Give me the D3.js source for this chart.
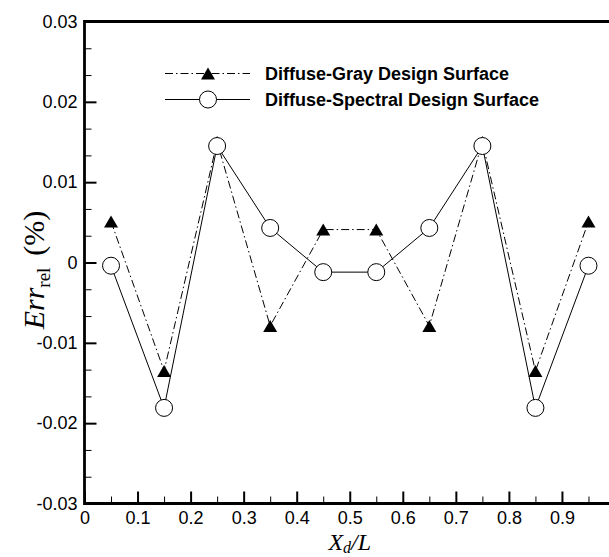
<!DOCTYPE html>
<html>
<head>
<meta charset="utf-8">
<script src="https://cdn.jsdelivr.net/npm/d3@7"></script>
<style>
  html, body { margin: 0; padding: 0; background: #fff; }
  svg { display: block; }
</style>
</head>
<body>
<svg id="chart" width="609" height="557"></svg>
<script>
// ---- data ----
const xPositions = [0.05, 0.15, 0.25, 0.35, 0.45, 0.55, 0.65, 0.75, 0.85, 0.95];
const grayValues = [0.0051, -0.0135, 0.0150, -0.0079, 0.0041, 0.0041, -0.0079, 0.0150, -0.0135, 0.0051];
const spectralValues = [-0.0004, -0.0181, 0.0145, 0.0043, -0.0012, -0.0012, 0.0043, 0.0145, -0.0181, -0.0004];
const seriesNames = ["Diffuse-Gray Design Surface", "Diffuse-Spectral Design Surface"];
const xTicks = [0, 0.1, 0.2, 0.3, 0.4, 0.5, 0.6, 0.7, 0.8, 0.9];
const xTickLabels = ["0", "0.1", "0.2", "0.3", "0.4", "0.5", "0.6", "0.7", "0.8", "0.9"];
const xMinorTicks = [0.05, 0.15, 0.25, 0.35, 0.45, 0.55, 0.65, 0.75, 0.85, 0.95];
const yTicks = [-0.03, -0.02, -0.01, 0, 0.01, 0.02, 0.03];
const yTickLabels = ["-0.03", "-0.02", "-0.01", "0", "0.01", "0.02", "0.03"];

(function () {
const svg = d3.select("#chart");
const pLeft = 84.5, pTop = 21.5, pBottom = 503.5;

const x = d3.scaleLinear().domain([0, 1]).range([pLeft, 615]);
const y = d3.scaleLinear().domain([-0.03, 0.03]).range([pBottom, pTop]);

const yMinor = [];
for (let i = 0; i < 6; i++) {
  const a = yTicks[i];
  yMinor.push(a + 0.01 / 3, a + 0.02 / 3);
}

const sans = "'Liberation Sans', Arial, Helvetica, sans-serif";
const serif = "'Liberation Serif', 'Times New Roman', Times, serif";

// ---- axes ----
const yAxis = d3.axisLeft(y).tickValues(yTicks)
  .tickFormat((d, i) => yTickLabels[i]).tickSizeInner(-12).tickSizeOuter(0).tickPadding(7);
const yAxisMinor = d3.axisLeft(y).tickValues(yMinor)
  .tickFormat("").tickSizeInner(-7).tickSizeOuter(0);
const xAxis = d3.axisBottom(x).tickValues(xTicks)
  .tickFormat((d, i) => xTickLabels[i]).tickSizeInner(-12).tickSizeOuter(0).tickPadding(8);
const xAxisMinor = d3.axisBottom(x).tickValues(xMinorTicks)
  .tickFormat("").tickSizeInner(-7).tickSizeOuter(0);

function styleAxis(g, major) {
  g.select(".domain").remove();
  g.selectAll(".tick line").attr("stroke", "#000").attr("stroke-width", major ? 2 : 1);
  g.selectAll(".tick text").attr("fill", "#000").style("font-family", sans).style("font-size", "18px");
}

svg.append("g").attr("transform", `translate(${pLeft},0)`).call(yAxisMinor).call(g => styleAxis(g, false));
svg.append("g").attr("transform", `translate(${pLeft},0)`).call(yAxis).call(g => styleAxis(g, true));
svg.append("g").attr("transform", `translate(0,${pBottom})`).call(xAxisMinor).call(g => styleAxis(g, false));
svg.append("g").attr("transform", `translate(0,${pBottom})`).call(xAxis).call(g => styleAxis(g, true));

// frame lines (plot is cropped on the right by the picture edge)
svg.append("path")
  .attr("d", `M${x(1)},${pTop}H${pLeft}V${pBottom}H${x(1)}`)
  .attr("fill", "none").attr("stroke", "#000").attr("stroke-width", 2.8)
  .attr("stroke-linejoin", "miter").attr("stroke-linecap", "square");

// ---- series ----
const dashDot = "8,3,1.5,3";
const line = d3.line().x(d => x(d[0])).y(d => y(d[1]));
const grayData = xPositions.map((v, i) => [v, grayValues[i]]);
const specData = xPositions.map((v, i) => [v, spectralValues[i]]);

const triPath = "M0,-6L7,6L-7,6Z";

svg.append("path").datum(grayData).attr("d", line)
  .attr("fill", "none").attr("stroke", "#000").attr("stroke-width", 1).attr("stroke-dasharray", dashDot);
svg.append("g").selectAll("path").data(grayData).join("path")
  .attr("d", triPath)
  .attr("transform", d => `translate(${x(d[0])},${y(d[1])})`)
  .attr("fill", "#000");

svg.append("path").datum(specData).attr("d", line)
  .attr("fill", "none").attr("stroke", "#000").attr("stroke-width", 1);
svg.append("g").selectAll("circle").data(specData).join("circle")
  .attr("cx", d => x(d[0])).attr("cy", d => y(d[1])).attr("r", 8.5)
  .attr("fill", "#fff").attr("stroke", "#000").attr("stroke-width", 1);

// ---- legend ----
const leg = svg.append("g");
const legY = [73.5, 99.5];
leg.append("line").attr("x1", 165).attr("x2", 250).attr("y1", legY[0]).attr("y2", legY[0])
  .attr("stroke", "#000").attr("stroke-width", 1).attr("stroke-dasharray", dashDot);
leg.append("path").attr("d", triPath).attr("transform", `translate(208,${legY[0]})`).attr("fill", "#000");
leg.append("line").attr("x1", 165).attr("x2", 250).attr("y1", legY[1]).attr("y2", legY[1])
  .attr("stroke", "#000").attr("stroke-width", 1);
leg.append("circle").attr("cx", 208).attr("cy", legY[1]).attr("r", 8.5)
  .attr("fill", "#fff").attr("stroke", "#000").attr("stroke-width", 1);
leg.selectAll("text").data(seriesNames).join("text")
  .attr("x", 265).attr("y", (d, i) => legY[i] + 6)
  .style("font-family", sans).style("font-size", "18px").style("font-weight", "bold")
  .text(d => d);

// ---- axis titles ----
const xt = svg.append("text").attr("x", x(0.5)).attr("y", 550).attr("text-anchor", "middle")
  .style("font-family", serif).style("font-size", "24px").style("font-style", "italic");
xt.append("tspan").text("X");
xt.append("tspan").attr("dy", 3).style("font-size", "16px").text("d");
xt.append("tspan").attr("dy", -3).text("/L");

const yt = svg.append("text").attr("transform", `translate(44,270) rotate(-90)`).attr("text-anchor", "middle")
  .style("font-family", serif).style("font-size", "30px");
yt.append("tspan").style("font-style", "italic").text("Err");
yt.append("tspan").attr("dy", 6).style("font-size", "19px").text("rel");
yt.append("tspan").attr("dy", -6).attr("dx", 12).text("(%)");
})();
</script>
</body>
</html>
